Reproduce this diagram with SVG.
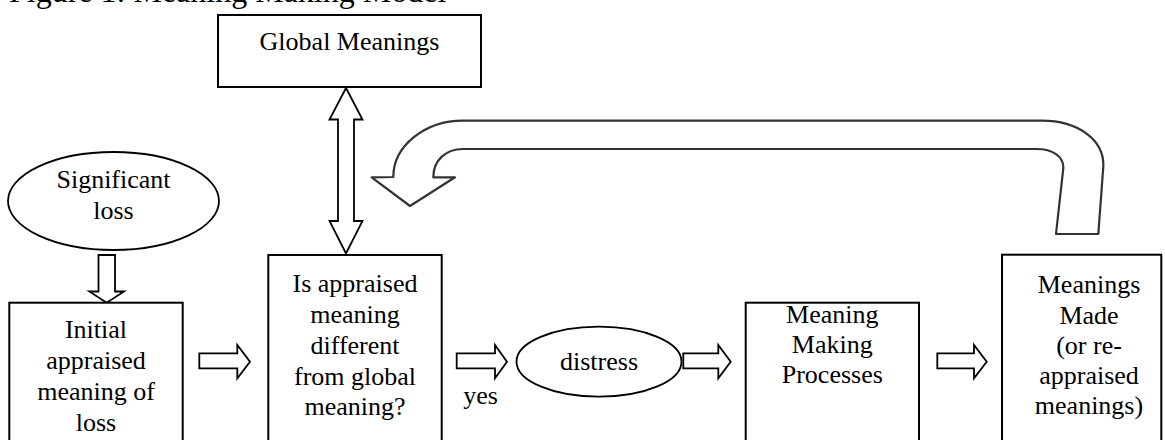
<svg xmlns="http://www.w3.org/2000/svg" width="1165" height="440" viewBox="0 0 1165 440">
<style>
.t{font-family:"Liberation Serif","Times New Roman",serif;font-size:26px;fill:#000;text-anchor:middle}
.title{font-family:"Liberation Serif","Times New Roman",serif;font-size:32px;fill:#000}
.box{fill:#fff;stroke:#000;stroke-width:2}
.ell{fill:#fff;stroke:#000;stroke-width:1.8}
.ar{fill:#fff;stroke:#000;stroke-width:1.8;stroke-linejoin:miter}
.big{fill:#fff;stroke:#333;stroke-width:2.2;stroke-linejoin:round}
</style>
<rect width="1165" height="440" fill="#fff"/>
<text class="title" x="9" y="1.5">Figure 1: Meaning Making Model</text>

<g id="connectors">
<path class="big" d="M1098.3,234 L1103.3,166.7 C1104.5,140 1078,120.7 1041.7,120.7 L463,120.7 C425,120.7 393.3,146 393.3,177 L371.7,177.3 L410,206 L455,177.3 L433.3,177.3 C433.3,160 446,149 463,149 L1036.7,149 C1052,149 1064,156 1063.3,168.3 L1056,234 Z"/>
<polygon class="ar" points="346,88 362.5,119.5 354,119.5 354,221 362.5,221 346,253.5 329.5,221 338,221 338,119.5 329.5,119.5"/>
<polygon class="ar" points="98.5,255 115,255 115,291.5 124,291.5 106.7,302.7 89.3,291.5 98.5,291.5"/>
<polygon class="ar" points="199.3,353.3 237.3,353.3 237.3,345 250,361.7 237.3,378.3 237.3,368.3 199.3,368.3"/>
<polygon class="ar" points="456.7,353.3 495,353.3 495,345 507,361.7 495,378.3 495,368.3 456.7,368.3"/>
<polygon class="ar" points="683.3,353.3 718.3,353.3 718.3,345 730.7,361.7 718.3,378.3 718.3,368.3 683.3,368.3"/>
<polygon class="ar" points="937.3,353.3 974,353.3 974,345 986.7,361.7 974,378.3 974,368.3 937.3,368.3"/>
<text class="t" x="480.5" y="403.5">yes</text>
</g>

<g id="global-meanings">
<rect class="box" x="218" y="15" width="263" height="72"/>
<text class="t" x="349.5" y="50">Global Meanings</text>
</g>

<g id="significant-loss">
<ellipse class="ell" cx="113.5" cy="201" rx="105.5" ry="49"/>
<text class="t" x="113.5" y="188">Significant</text>
<text class="t" x="113.5" y="219">loss</text>
</g>

<g id="initial-appraised">
<rect class="box" x="9.3" y="302.7" width="173.4" height="160"/>
<text class="t" x="96" y="338">Initial</text>
<text class="t" x="96" y="369">appraised</text>
<text class="t" x="96" y="400">meaning of</text>
<text class="t" x="96" y="431">loss</text>
</g>

<g id="is-appraised">
<rect class="box" x="268.3" y="255" width="173.4" height="210"/>
<text class="t" x="355" y="292">Is appraised</text>
<text class="t" x="355" y="323">meaning</text>
<text class="t" x="355" y="354">different</text>
<text class="t" x="355" y="385">from global</text>
<text class="t" x="355" y="415">meaning?</text>
</g>

<g id="distress">
<ellipse class="ell" cx="599" cy="361.7" rx="82.5" ry="35"/>
<text class="t" x="599" y="370">distress</text>
</g>

<g id="meaning-making">
<rect class="box" x="745.7" y="302.7" width="173.3" height="160"/>
<text class="t" x="832.3" y="323.3">Meaning</text>
<text class="t" x="832.3" y="353.3">Making</text>
<text class="t" x="832.3" y="383.3">Processes</text>
</g>

<g id="meanings-made">
<rect class="box" x="1002" y="254.7" width="159.3" height="210"/>
<text class="t" x="1089" y="293.3">Meanings</text>
<text class="t" x="1089" y="323.5">Made</text>
<text class="t" x="1089" y="353.5">(or re-</text>
<text class="t" x="1089" y="383.5">appraised</text>
<text class="t" x="1089" y="413.5">meanings)</text>
</g>
</svg>
